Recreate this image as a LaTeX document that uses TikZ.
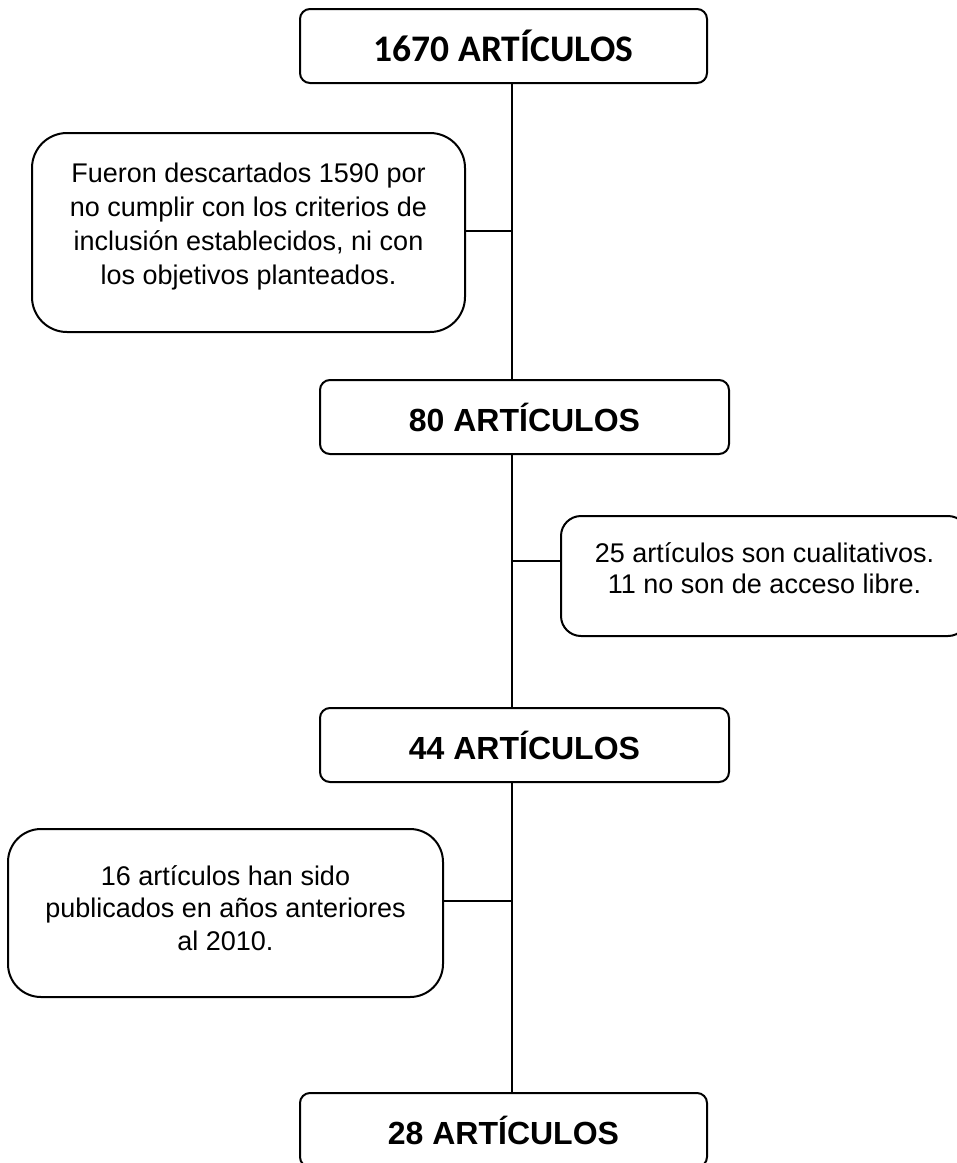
\documentclass[tikz,border=0pt]{standalone}
\usepackage{fontspec}
\setmainfont{Liberation Sans}
\newfontfamily\calibrifont{Carlito}
\begin{document}
\begin{tikzpicture}[x=1pt,y=-1pt,
  box/.style={draw=black, line width=2pt, rounded corners=10pt, inner sep=0pt, fill=white},
  titlebox/.style={box, minimum height=74pt, font=\fontsize{32}{36}\selectfont\bfseries},
  notebox/.style={box},
  notetext/.style={inner sep=0pt, align=center, font=\fontsize{27}{33}\selectfont},
  link/.style={draw=black, line width=2pt}]
\useasboundingbox (0,0) rectangle (957,1163);
\clip (0,0) rectangle (957,1163);
\coordinate (t) at (512,0);
% main boxes
\node[titlebox, minimum width=407pt, font=\fontsize{37.5}{40}\selectfont\calibrifont\bfseries] (a) at (503.5,46) {1670 ARTÍCULOS};
\node[titlebox, minimum width=409pt] (b) at (524.5,417) {80 ARTÍCULOS};
\node[titlebox, minimum width=409pt] (c) at (524.5,745) {44 ARTÍCULOS};
\node[titlebox, minimum width=407pt] (d) at (503.5,1130) {28 ARTÍCULOS};
% side notes
\node[notebox, minimum width=433pt, minimum height=199pt, rounded corners=35pt] (n1) at (248.5,232.5) {};
\node[notetext, font=\fontsize{27}{34}\selectfont] (n1t) at ([yshift=6pt]n1.center)
  {Fueron descartados 1590 por\\no cumplir con los criterios de\\inclusión establecidos, ni con\\los objetivos planteados.};
\node[notebox, minimum width=407pt, minimum height=120pt, rounded corners=20pt] (n2) at (764.5,576) {};
\node[notetext, font=\fontsize{27}{31}\selectfont] (n2t) at ([yshift=8pt]n2.center)
  {25 artículos son cualitativos.\\11 no son de acceso libre.};
\node[notebox, minimum width=435pt, minimum height=168pt, rounded corners=33pt] (n3) at (225.5,913) {};
\node[notetext, font=\fontsize{27}{32.5}\selectfont] (n3t) at ([yshift=5pt]n3.center)
  {16 artículos han sido\\publicados en años anteriores\\al 2010.};
% trunk
\draw[link] (a.south -| t) -- (b.north -| t);
\draw[link] (b.south -| t) -- (c.north -| t);
\draw[link] (c.south -| t) -- (d.north -| t);
% branches
\coordinate (j1) at (512,231);
\coordinate (j2) at (512,561);
\coordinate (j3) at (512,901);
\draw[link] (j1) -- (j1 -| n1.east);
\draw[link] (j2) -- (j2 -| n2.west);
\draw[link] (j3) -- (j3 -| n3.east);
\end{tikzpicture}
\end{document}
